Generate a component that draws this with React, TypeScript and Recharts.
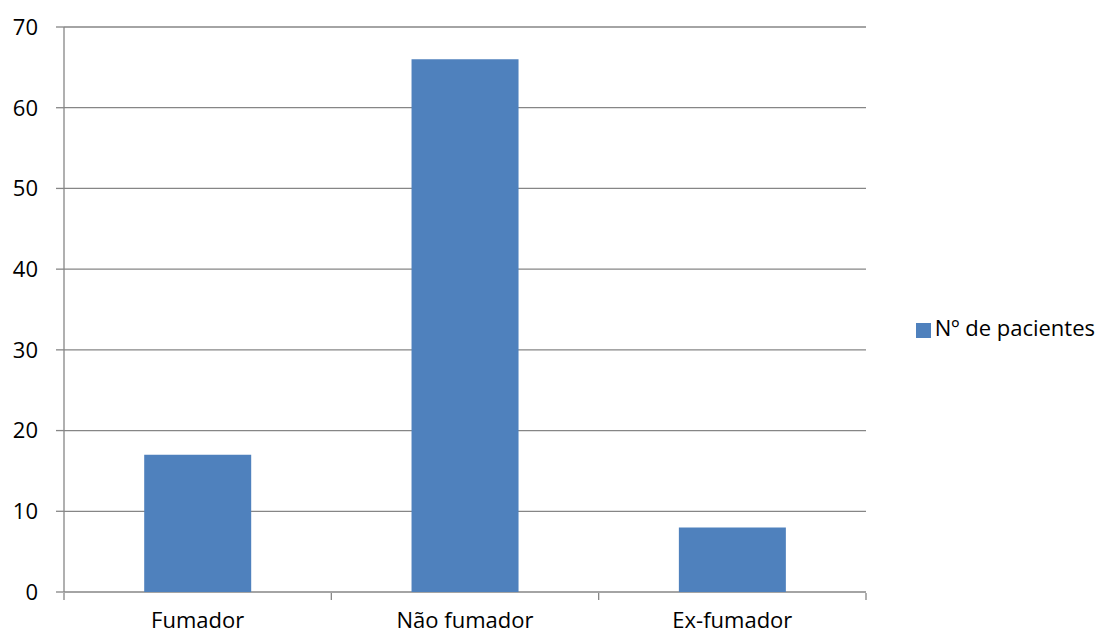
import React from "react";
import {
  BarChart,
  Bar,
  XAxis,
  YAxis,
  CartesianGrid,
  Legend,
} from "recharts";

const categories = ["Fumador", "Não fumador", "Ex-fumador"];
const pacientes = [17, 66, 8];
const yTicks = [0, 10, 20, 30, 40, 50, 60, 70];
const boundaryTicks = [0, 1, 2, 3];
const seriesName = "Nº de pacientes";

const data = categories.map((name, i) => ({ name, idx: i + 0.5, value: pacientes[i] }));

const font = "'Open Sans', sans-serif";
const axisGray = "#868686";

const App = () => (
  <div style={{ position: "absolute", left: 0, top: 0, fontFamily: font }}>
    <BarChart
      width={1104}
      height={637}
      data={data}
      barCategoryGap="30%"
      margin={{ top: 27, right: 38, bottom: 15, left: 0 }}
    >
      <CartesianGrid vertical={false} stroke={axisGray} strokeWidth={1.3} />
      <XAxis
        xAxisId="cat"
        dataKey="name"
        axisLine={false}
        tickLine={false}
        tickSize={0}
        tickMargin={20}
        height={1}
        tick={{ fill: "#000", fontSize: 22, fontFamily: font }}
      />
      <XAxis
        xAxisId="grid"
        type="number"
        dataKey="idx"
        domain={[0, 3]}
        ticks={boundaryTicks}
        interval={0}
        axisLine={false}
        tick={{ fill: "none", fontSize: 1 }}
        tickLine={{ stroke: axisGray, strokeWidth: 1.3 }}
        tickSize={7}
        height={29}
        stroke={axisGray}
      />
      <YAxis
        domain={[0, 70]}
        ticks={yTicks}
        width={64}
        tickSize={8}
        tickMargin={18}
        stroke={axisGray}
        strokeWidth={1.3}
        tick={{ fill: "#000", fontSize: 22, fontFamily: font }}
      />
      <Legend
        layout="horizontal"
        verticalAlign="middle"
        align="right"
        iconType="square"
        iconSize={15}
        wrapperStyle={{ left: 905, top: 312, width: 200, fontSize: 22, fontFamily: font }}
        formatter={(v) => <span style={{ color: "#000" }}>{v}</span>}
      />
      <Bar
        xAxisId="cat"
        dataKey="value"
        name={seriesName}
        fill="#4f81bd"
        isAnimationActive={false}
      />
    </BarChart>
  </div>
);

export default App;
